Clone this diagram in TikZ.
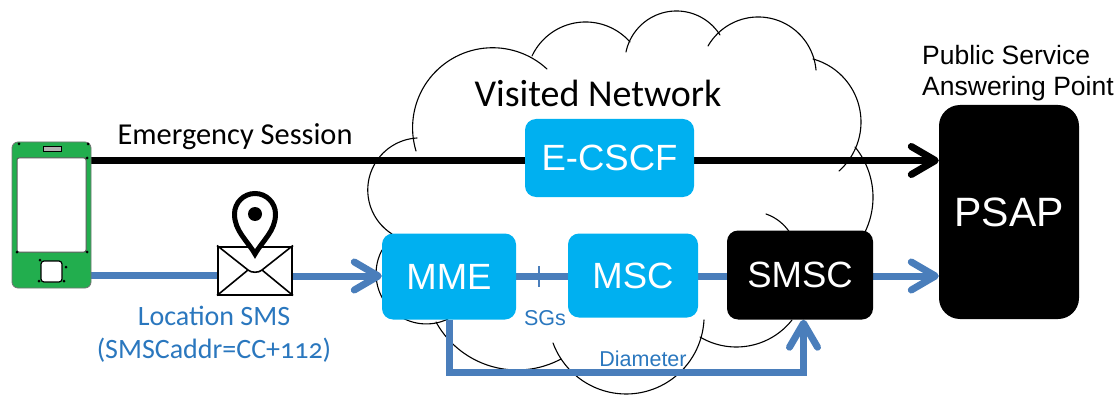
\documentclass[tikz,border=0pt]{standalone}
\usepackage{fontspec}
\setmainfont{Liberation Sans}
\newfontfamily\capt[Numbers=OldStyle]{Carlito}
\usetikzlibrary{arrows.meta,backgrounds}
\definecolor{cyanbox}{HTML}{00B0F0}
\definecolor{linkblue}{HTML}{4A7EBB}
\definecolor{textblue}{HTML}{2A77BE}
\definecolor{phonegreen}{HTML}{22AE4E}
\tikzset{
  x=1pt,y=-1pt,
  cloudarc/.style={draw=black,line width=1.1pt,line cap=round},
  cyanbox/.style={fill=cyanbox,rounded corners=11pt,text=white,inner sep=0pt,font=\fontsize{36.5}{36.5}\selectfont},
  blackbox/.style={fill=black,rounded corners=11pt,text=white,inner sep=0pt,font=\fontsize{36.5}{36.5}\selectfont},
  blacklink/.style={draw=black,line width=7pt,-{Straight Barb[length=24pt,width=28pt,line width=7pt,round]}},
  bluelink/.style={draw=linkblue,line width=7pt},
  bluearrow/.style={bluelink,-{Straight Barb[length=24pt,width=28pt,line width=7pt,round]}},
  captiontext/.style={inner sep=0pt,anchor=base,font=\capt\fontsize{27}{27}\selectfont},
  bluecaption/.style={captiontext,text=textblue,font=\capt\fontsize{28}{28}\selectfont},
  psaptext/.style={inner sep=0pt,anchor=base west,font=\fontsize{26.5}{26.5}\selectfont},
  dot/.style={fill=black,inner sep=0pt,minimum size=3pt,circle},
}
% circular arc through three points
\newcommand\lobe[6]{%
  \pgfmathsetmacro\lbx{(#3-#1)/100}\pgfmathsetmacro\lby{(#4-#2)/100}%
  \pgfmathsetmacro\lcx{(#5-#1)/100}\pgfmathsetmacro\lcy{(#6-#2)/100}%
  \pgfmathsetmacro\lD{2*(\lbx*\lcy-\lby*\lcx)}%
  \pgfmathsetmacro\lux{(\lcy*(\lbx*\lbx+\lby*\lby)-\lby*(\lcx*\lcx+\lcy*\lcy))/\lD}%
  \pgfmathsetmacro\luy{(\lbx*(\lcx*\lcx+\lcy*\lcy)-\lcx*(\lbx*\lbx+\lby*\lby))/\lD}%
  \pgfmathsetmacro\lR{100*sqrt(\lux*\lux+\luy*\luy)}%
  \pgfmathsetmacro\lA{atan2(-\luy,-\lux)}%
  \pgfmathsetmacro\lM{atan2(\lby-\luy,\lbx-\lux)}%
  \pgfmathsetmacro\lB{atan2(\lcy-\luy,\lcx-\lux)}%
  \pgfmathsetmacro\ldm{mod(\lM-\lA+720,360)}%
  \pgfmathsetmacro\ldb{mod(\lB-\lA+720,360)}%
  \pgfmathsetmacro\lE{\ldm<\ldb ? \lA+\ldb : \lA-(360-\ldb)}%
  \pgfmathsetmacro\lCx{#1+100*\lux}\pgfmathsetmacro\lCy{#2+100*\luy}%
  \draw[cloudarc] plot[domain=\lA:\lE,samples=50,smooth] ({\lCx+\lR*cos(\x)},{\lCy+\lR*sin(\x)});%
}
\begin{document}
\begin{tikzpicture}
\useasboundingbox (0,0) rectangle (1118,398);
% phone
\node[fill=phonegreen,draw=black!55,line width=.8pt,rounded corners=6pt,minimum width=79pt,minimum height=146pt,inner sep=0pt] (phone) at (51.5,215) {};
\node[fill=white,draw=black!65,line width=1pt,rounded corners=2pt,minimum width=69pt,minimum height=94pt,inner sep=0pt] (screen) at (51.5,205) {};
\node[fill=black!30,draw=black,line width=1pt,minimum width=18pt,minimum height=5pt,inner sep=0pt] (speaker) at (52.5,149.5) {};
\node[fill=white,draw=black,line width=1.2pt,rounded corners=3pt,minimum width=21pt,minimum height=21pt,inner sep=0pt] (homekey) at (51.5,271.5) {};
\foreach \dotx/\doty [count=\i] in {19/144,88/144,87/158,17/252,87/252,40/260,66/267,39/281,64/281}
  \node[dot] (d\i) at (\dotx,\doty) {};
% envelope
\node[fill=white,draw=black,line width=2pt,minimum width=74pt,minimum height=48pt,inner sep=0pt] (env) at (255,270.5) {};
\coordinate (fl) at (248,270);
\coordinate (fr) at (262,270);
\draw[black,line width=1.6pt,line join=round] (env.north west) -- (fl) .. controls (251,273) and (259,273) .. (fr) -- (env.north east);
\draw[black,line width=1.6pt] (env.south west) -- (fl) (env.south east) -- (fr);
% pin
\coordinate (pintip) at (255,254);
\coordinate (pinc) at (255,214);
\draw[black,line width=5pt,fill=white,miter limit=10] (pintip) .. controls (247,240) and (234.5,231) .. (234.5,214) arc[start angle=180,end angle=360,radius=20.5] .. controls (275.5,231) and (263,240) .. (pintip) -- cycle;
\node[circle,fill=black,minimum size=14pt,inner sep=0pt] (pindot) at (pinc) {};
% boxes
\node[cyanbox,minimum width=169pt,minimum height=78pt] (ecscf) at (609.5,158) {E-CSCF};
\node[cyanbox,minimum width=134pt,minimum height=86pt] (mme) at (449,276.5) {MME};
\node[cyanbox,minimum width=130pt,minimum height=84pt] (msc) at (633,275.5) {MSC};
\node[blackbox,minimum width=146pt,minimum height=89pt] (smsc) at (800,275) {SMSC};
\node[fill=black,rounded corners=21pt,text=white,inner sep=0pt,minimum width=140pt,minimum height=214pt,font=\fontsize{41}{41}\selectfont] (psap) at (1009,212) {PSAP};
% texts
\node[captiontext] (vn) at (598,107) {\fontsize{38}{38}\selectfont Visited Network};
\node[captiontext] (es) at (235,145) {\fontsize{30.4}{30.4}\selectfont Emergency Session};
\node[bluecaption] (ls) at (214,325) {Location SMS};
\node[bluecaption] (sa) at (214,358) {(SMSCaddr=CC+112)};
\node[inner sep=0pt,anchor=center,text=textblue,font=\fontsize{21.5}{21.5}\selectfont] (sgs) at (545,318) {SGs};
\node[inner sep=0pt,anchor=center,text=textblue,font=\fontsize{21.5}{21.5}\selectfont] (dia) at (643,359) {Diameter};
\node[psaptext] (pub) at (922,65) {Public Service};
\node[psaptext] (ans) at (922,96) {Answering Point};
% links
\coordinate (ky) at (0,160.5);
\coordinate (by) at (0,276);
\coordinate (bl) at (0,275);
\coordinate (dy) at (0,372);
\coordinate (dx) at (449.5,0);
\coordinate (ax) at (803.5,0);
\coordinate (tick1) at (539,266);
\coordinate (tick2) at (539,287);
\begin{pgfonlayer}{background}
% cloud
\lobe{416}{151}{447}{62}{547}{69}
\lobe{532}{56}{587}{22}{630}{42}
\lobe{626}{52}{675}{11}{720}{35}
\lobe{708}{46}{760}{17}{816}{70}
\lobe{813}{59}{861}{122}{839}{171}
\lobe{855}{147}{873}{197}{865}{232}
\lobe{417}{138}{368}{195}{392}{234}
\lobe{382}{250}{395}{313}{448}{319}
\lobe{436}{322}{498}{368}{561}{359}
\lobe{553}{343}{625}{394}{704}{320}
\lobe{700}{337}{737}{347}{792}{320}
\lobe{766}{214}{779}{221}{790}{233}
% links
\draw[blacklink] (phone.east |- ky) -- (psap.west |- ky);
\draw[bluelink] (phone.east |- bl) -- (env.west |- bl);
\draw[bluearrow] (env.east |- by) -- (mme.west |- by);
\draw[bluelink] (mme.east |- by) -- (msc.west |- by);
\draw[bluelink] (msc.east |- by) -- (smsc.west |- by);
\draw[bluearrow] (smsc.east |- by) -- (psap.west |- by);
\draw[draw=linkblue,line width=1.2pt] (tick1) -- (tick2);
\draw[bluearrow,line join=miter] (dx |- mme.south) -- (dx |- dy) -- (ax |- dy) -- (ax |- smsc.south);
\end{pgfonlayer}
\end{tikzpicture}
\end{document}
